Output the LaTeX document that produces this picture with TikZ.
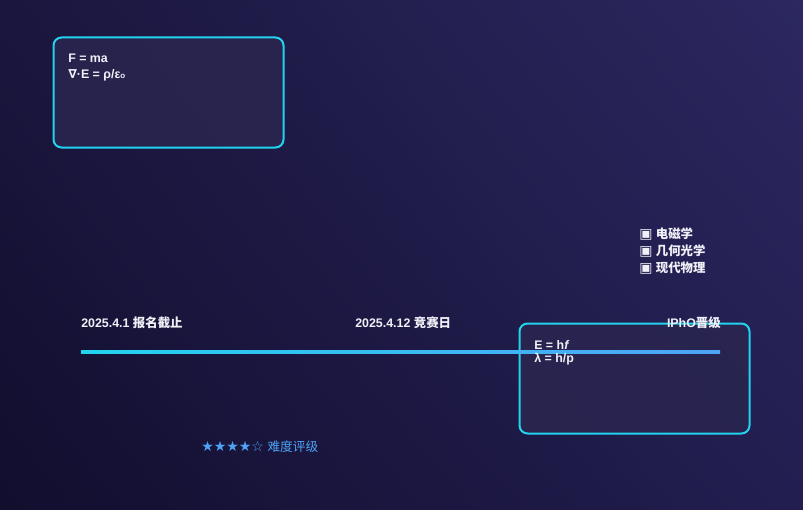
\documentclass[tikz,border=0pt]{standalone}
\usepackage{fontspec}
\setmainfont{Liberation Sans}
\newfontfamily\cjk{Noto Sans CJK SC}
\newfontfamily\djv{DejaVu Sans}
\usetikzlibrary{shadings}
\definecolor{cy}{HTML}{22D3EE}
\definecolor{bl}{HTML}{4FA3F7}
\definecolor{boxf}{HTML}{2A2650}
\definecolor{txt}{HTML}{F0F0F8}
\tikzset{
 card/.style={draw=cy,line width=1.5pt,rounded corners=6pt,fill=boxf,fill opacity=0.85},
 lbl/.style={text=txt,font=\bfseries\fontsize{9.3}{11}\selectfont,inner sep=0pt,anchor=west},
}
\begin{document}
\begin{tikzpicture}[x=0.75pt,y=-0.75pt]
\useasboundingbox (0,0) rectangle (803,510);
\shade[lower left={rgb,255:red,18;green,14;blue,46}, upper right={rgb,255:red,44;green,40;blue,96}, lower right={rgb,255:red,34;green,30;blue,80}, upper left={rgb,255:red,26;green,22;blue,62}] (0,0) rectangle (803,510);
\node[card,minimum width=172.5pt,minimum height=82.5pt,anchor=north west] (b1) at (52.5,36.5) {};
\node[card,minimum width=172.5pt,minimum height=82.5pt,anchor=north west] (b2) at (518.5,322.5) {};
\node[lbl] (f1) at (68,58) {F = ma};
\node[lbl] (f2) at (68,75) {{\djv\bfseries ∇}·E = ρ/ε{\fontsize{6}{6}\selectfont o}};
\coordinate (l1) at (81,352);
\coordinate (l2) at (720,352);
\shade[left color=cy,right color=bl] (81,350.5) rectangle (720,353.5);
\node[lbl] (t1) at (81,323) {2025.4.1 {\cjk 报名截止}};
\node[lbl] (t2) at (355,323) {2025.4.12 {\cjk 竞赛日}};
\node[lbl,anchor=east] (t3) at (721,323) {IPhO{\cjk 晋级}};
\node[lbl] (e1) at (534,345) {E = h{\itshape f}};
\node[lbl] (e2) at (534,359) {λ = h/p};
\node[lbl] (g1) at (639,234) {{\djv\fontsize{10.5}{11}\selectfont ▣} {\cjk 电磁学}};
\node[lbl] (g2) at (639,251) {{\djv\fontsize{10.5}{11}\selectfont ▣} {\cjk 几何光学}};
\node[lbl] (g3) at (639,268) {{\djv\fontsize{10.5}{11}\selectfont ▣} {\cjk 现代物理}};
\node[lbl,text=bl,font=\fontsize{9.5}{11}\selectfont] (st) at (201,447) {{\djv\fontsize{10.5}{11}\selectfont ★★★★☆} {\cjk 难度评级}};
\end{tikzpicture}
\end{document}
